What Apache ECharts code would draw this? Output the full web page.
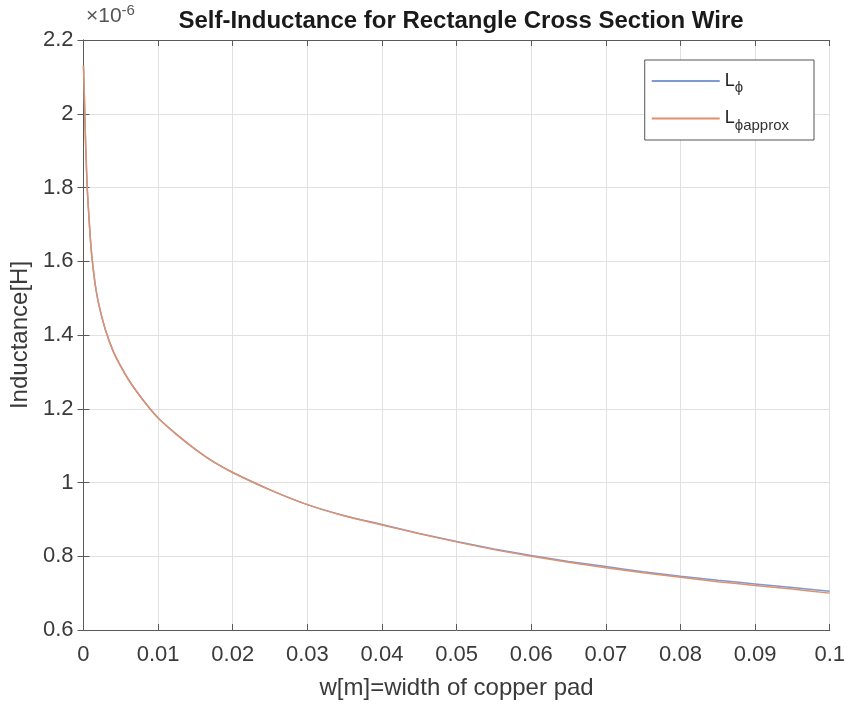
<!DOCTYPE html>
<html>
<head>
<meta charset="utf-8">
<title>Self-Inductance for Rectangle Cross Section Wire</title>
<script src="https://cdn.jsdelivr.net/npm/echarts@6/dist/echarts.min.js"></script>
<style>
  html, body { margin: 0; padding: 0; background: #fff; }
  #chart { width: 848px; height: 705px; }
</style>
</head>
<body>
<div id="chart"></div>
<script>
// pad width w [m]
const widths = [0, 0.0001, 0.0002, 0.0003, 0.0005, 0.0007, 0.001, 0.0013, 0.0017, 0.0022,
  0.003, 0.004, 0.005, 0.006, 0.007, 0.0085, 0.01, 0.0125, 0.015, 0.0175, 0.02, 0.025,
  0.03, 0.035, 0.04, 0.045, 0.05, 0.055, 0.06, 0.065, 0.07, 0.075, 0.08, 0.085, 0.09,
  0.095, 0.1];

// inductance in units of 1e-6 H
const inductance = [2.13, 2.06, 1.98, 1.91, 1.80, 1.73, 1.64, 1.58, 1.52, 1.47,
  1.41, 1.355, 1.315, 1.28, 1.25, 1.21, 1.175, 1.13, 1.09, 1.055, 1.027, 0.98,
  0.94, 0.91, 0.886, 0.862, 0.84, 0.82, 0.802, 0.786, 0.772, 0.758, 0.746, 0.735,
  0.725, 0.715, 0.705];

const inductanceApprox = [2.13, 2.06, 1.98, 1.91, 1.80, 1.73, 1.64, 1.58, 1.52, 1.47,
  1.41, 1.355, 1.315, 1.28, 1.25, 1.21, 1.175, 1.13, 1.09, 1.055, 1.027, 0.98,
  0.94, 0.909, 0.885, 0.861, 0.839, 0.818, 0.8, 0.784, 0.769, 0.755, 0.743, 0.731,
  0.721, 0.711, 0.700];

const xTicks = [0, 0.01, 0.02, 0.03, 0.04, 0.05, 0.06, 0.07, 0.08, 0.09, 0.1];
const yTicks = [0.6, 0.8, 1, 1.2, 1.4, 1.6, 1.8, 2, 2.2];

const FONT = '"Liberation Sans", Arial, sans-serif';
const AXIS_COLOR = '#5a5a5a';
const TEXT_COLOR = '#3a3a3a';
const BLUE = '#7d9ad4';
const ORANGE = '#e0906a';

const pairs = (xs, ys) => xs.map((x, i) => [x, ys[i]]);
const fmt = v => String(Number(v.toFixed(3)));

const chart = echarts.init(document.getElementById('chart'), null, { renderer: 'canvas' });

const baseX = {
  type: 'value', min: xTicks[0], max: xTicks[xTicks.length - 1], interval: 0.01,
  axisLine: { show: true, lineStyle: { color: AXIS_COLOR, width: 1 } },
  axisTick: { show: true, inside: true, length: 6, lineStyle: { color: AXIS_COLOR } },
  splitLine: { show: false }
};
const baseY = {
  type: 'value', min: yTicks[0], max: yTicks[yTicks.length - 1], interval: 0.2,
  axisLine: { show: true, lineStyle: { color: AXIS_COLOR, width: 1 } },
  axisTick: { show: true, inside: true, length: 6, lineStyle: { color: AXIS_COLOR } },
  splitLine: { show: false }
};

chart.setOption({
  animation: false,
  backgroundColor: '#fff',
  title: {
    text: 'Self-Inductance for Rectangle Cross Section Wire',
    left: 456, top: 4, textAlign: 'center',
    textStyle: { fontFamily: FONT, fontSize: 24, fontWeight: 'bold', color: '#1a1a1a' }
  },
  grid: { left: 83, right: 15, top: 40, bottom: 75, containLabel: false },
  legend: {
    right: 34, top: 60, orient: 'vertical',
    itemWidth: 68, itemHeight: 2, itemGap: 14,
    padding: [12, 25, 7, 7],
    backgroundColor: '#fff', borderColor: '#555', borderWidth: 1,
    icon: 'rect',
    formatter: name => name === 'L' ? '{m|L}{s|ϕ}' : '{m|L}{s|ϕapprox}',
    textStyle: {
      fontFamily: FONT, color: '#222',
      rich: {
        m: { fontSize: 18, fontFamily: FONT, color: '#222' },
        s: { fontSize: 15, fontFamily: FONT, color: '#333', padding: [14, 0, 0, 0] }
      }
    },
    data: [
      { name: 'L', itemStyle: { color: BLUE } },
      { name: 'Lapprox', itemStyle: { color: ORANGE } }
    ]
  },
  xAxis: [
    Object.assign({}, baseX, {
      position: 'bottom',
      name: 'w[m]=width of copper pad', nameLocation: 'middle', nameGap: 46,
      nameTextStyle: { fontFamily: FONT, fontSize: 24, color: TEXT_COLOR },
      axisLabel: { fontFamily: FONT, fontSize: 22, color: TEXT_COLOR, margin: 14, formatter: fmt },
      splitLine: { show: true, lineStyle: { color: '#e1e1e1', width: 1 } }
    }),
    Object.assign({}, baseX, { position: 'top', axisLabel: { show: false } })
  ],
  yAxis: [
    Object.assign({}, baseY, {
      position: 'left',
      name: 'Inductance[H]', nameLocation: 'middle', nameGap: 51, nameRotate: 90,
      nameTextStyle: { fontFamily: FONT, fontSize: 24, color: TEXT_COLOR },
      axisLabel: { fontFamily: FONT, fontSize: 22, color: TEXT_COLOR, margin: 10, formatter: fmt },
      splitLine: { show: true, lineStyle: { color: '#e1e1e1', width: 1 } }
    }),
    Object.assign({}, baseY, { position: 'right', axisLabel: { show: false } })
  ],
  graphic: [{
    type: 'text', left: 86, top: 3,
    style: {
      text: '×10{e|-6}',
      rich: { e: { fontSize: 15, padding: [0, 0, 12, 0], fontFamily: FONT, fill: '#555' } },
      fontFamily: FONT, fontSize: 21, fill: '#555'
    }
  }],
  series: [
    {
      name: 'L', type: 'line', xAxisIndex: 0, yAxisIndex: 0,
      data: pairs(widths, inductance), smooth: 0.25, showSymbol: false,
      lineStyle: { color: BLUE, width: 1.5 }, itemStyle: { color: BLUE }, z: 2
    },
    {
      name: 'Lapprox', type: 'line', xAxisIndex: 0, yAxisIndex: 0,
      data: pairs(widths, inductanceApprox), smooth: 0.25, showSymbol: false,
      lineStyle: { color: ORANGE, width: 1.5 }, itemStyle: { color: ORANGE }, z: 3
    }
  ]
});
</script>
</body>
</html>
